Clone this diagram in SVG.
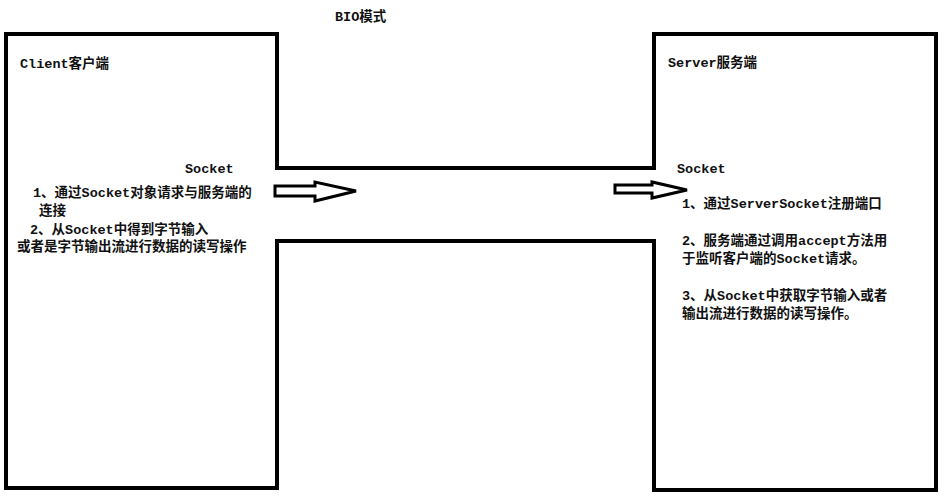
<svg xmlns="http://www.w3.org/2000/svg" width="947" height="501" viewBox="0 0 947 501">
<style>
.box{fill:none;stroke:#000;stroke-width:4;stroke-linecap:square}
.pipe{fill:none;stroke:#000;stroke-width:4}
.arrow{fill:#fff;stroke:#000;stroke-width:3;stroke-linejoin:miter}
text{font-family:"Liberation Mono","Noto Sans CJK SC",monospace;font-size:13.5px;font-weight:bold;fill:#111}
</style>
<rect width="947" height="501" fill="#fff"/>
<text x="335" y="21">BIO模式</text>
<g id="client">
<path class="box" d="M277,168 L277,34 L6,34 L6,488 L277,488 L277,241"/>
<text x="20" y="68">Client客户端</text>
<text x="185" y="173">Socket</text>
<text x="33" y="197">1、通过Socket对象请求与服务端的</text>
<text x="39" y="215">连接</text>
<text x="30" y="234">2、从Socket中得到字节输入</text>
<text x="17" y="251">或者是字节输出流进行数据的读写操作</text>
</g>
<g id="server">
<path class="box" d="M654,168 L654,34 L936,34 L936,490 L654,490 L654,241"/>
<text x="668" y="67">Server服务端</text>
<text x="677" y="173">Socket</text>
<text x="682" y="208">1、通过ServerSocket注册端口</text>
<text x="682" y="245">2、服务端通过调用accept方法用</text>
<text x="682" y="263">于监听客户端的Socket请求。</text>
<text x="682" y="300">3、从Socket中获取字节输入或者</text>
<text x="682" y="318">输出流进行数据的读写操作。</text>
</g>
<g id="connectors">
<line class="pipe" x1="277" y1="168" x2="654" y2="168"/>
<line class="pipe" x1="277" y1="241" x2="654" y2="241"/>
<polygon class="arrow" points="275,186 315,186 315,182 356,191 315,201 315,196 275,196"/>
<polygon class="arrow" points="615,185 652,185 652,182 687,190 652,198 652,193 615,193"/>
</g>
</svg>
